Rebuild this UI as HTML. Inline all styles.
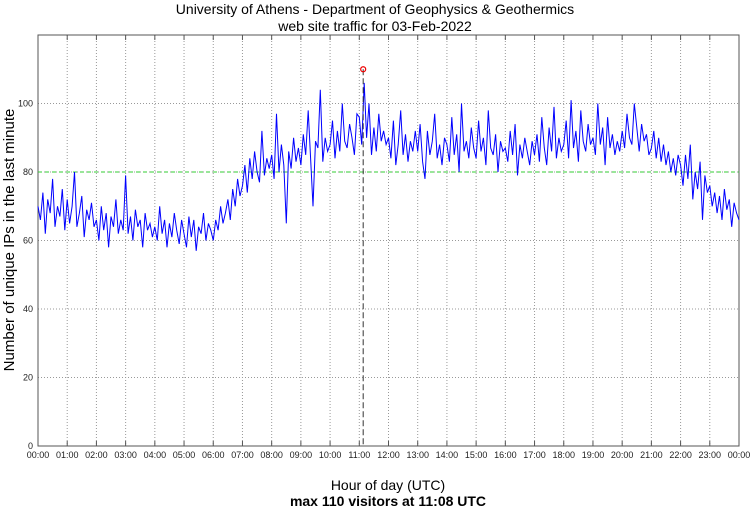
<!DOCTYPE html>
<html><head><meta charset="utf-8"><style>
body{margin:0;background:#fff;}
svg{display:block;font-family:"Liberation Sans",sans-serif;}
</style></head><body>
<svg id="c" width="750" height="511">
<text x="375" y="14" font-size="14" text-anchor="middle">University of Athens - Department of Geophysics &amp; Geothermics</text>
<text x="375" y="31" font-size="14" text-anchor="middle">web site traffic for 03-Feb-2022</text>
<text transform="translate(14,240) rotate(-90)" font-size="15" text-anchor="middle">Number of unique IPs in the last minute</text>
<text x="388" y="490" font-size="14" text-anchor="middle">Hour of day (UTC)</text>
<text x="388" y="506" font-size="14" font-weight="bold" text-anchor="middle">max 110 visitors at 11:08 UTC</text>
<g id="grid"></g><g id="plot"></g>
</svg>
<script>
const hourLabels=["00:00","01:00","02:00","03:00","04:00","05:00","06:00","07:00","08:00","09:00","10:00","11:00","12:00","13:00","14:00","15:00","16:00","17:00","18:00","19:00","20:00","21:00","22:00","23:00","00:00"];
const yTicks=[0,20,40,60,80,100];
const avgLevel=80;
const maxValue=110, maxMinute=668;
const visitors=[
70,66,74,62,72,68,78,64,70,67,75,63,
72,65,70,80,64,68,73,61,69,66,71,64,
66,60,70,63,68,58,67,64,72,62,66,63,
79,62,67,60,69,64,66,58,68,63,65,61,
64,60,70,62,66,58,65,61,68,63,59,66,
62,58,67,61,66,57,64,62,68,60,65,63,
60,66,63,70,65,68,72,66,75,70,78,73,
76,82,74,84,78,86,80,77,92,79,84,81,
85,78,97,80,88,82,65,86,81,90,83,87,
82,91,85,98,84,70,89,87,104,83,90,86,
88,95,84,92,86,100,89,87,94,90,85,97,
96,88,106,90,100,85,93,86,97,89,92,88,
90,84,95,82,88,98,85,91,83,89,86,92,
86,94,83,78,92,85,89,97,84,88,82,90,
88,83,96,85,91,80,100,86,89,84,93,87,
84,95,86,90,82,98,87,85,91,80,89,86,
87,83,92,85,94,79,88,84,90,86,82,89,
85,91,83,96,87,82,93,86,99,84,90,86,
88,95,84,101,87,92,83,98,89,86,94,88,
90,85,100,88,93,82,96,87,91,85,89,86,
92,87,97,90,88,100,93,86,94,89,91,85,
87,92,84,90,83,88,82,86,80,84,79,85,
82,76,85,78,88,72,80,75,83,66,79,74,
76,70,74,68,73,66,75,69,72,64,71,68,66];
const L=38,R=739,T=35,B=446,YMAX=120;
const xs=m=>L+(R-L)*m/1440, ys=v=>B-(B-T)*v/YMAX;
const NS="http://www.w3.org/2000/svg";
const grid=document.getElementById('grid'),plot=document.getElementById('plot');
function mk(tag,attrs,parent){const e=document.createElementNS(NS,tag);for(const k in attrs)e.setAttribute(k,attrs[k]);parent.appendChild(e);return e;}
hourLabels.forEach((lab,i)=>{const x=xs(i*60);
 if(i>0&&i<24){const g=mk('line',{x1:x,x2:x,y1:T,y2:B,stroke:'#999','stroke-dasharray':'1,2','stroke-width':1},grid);
 
 }
 mk('line',{x1:x,x2:x,y1:B,y2:B-5,stroke:'#555'},grid);
 mk('line',{x1:x,x2:x,y1:T,y2:T+5,stroke:'#555'},grid);
 const t=mk('text',{x:x,y:458,'font-size':9,'text-anchor':'middle',fill:'#222'},grid);t.textContent=lab;
 
 
});
yTicks.forEach(v=>{const y=ys(v);
 if(v>0){const g=mk('line',{x1:L,x2:R,y1:y,y2:y,stroke:'#999','stroke-dasharray':'1,2'},grid);
 
 }
 const t=mk('text',{x:33,y:y+3,'font-size':9,'text-anchor':'end',fill:'#222'},grid);t.textContent=v;
 
 
});
const fr=mk('rect',{x:L,y:T,width:R-L,height:B-T,fill:'none',stroke:'#555'},grid);


const av=mk('line',{x1:L,x2:R,y1:ys(avgLevel),y2:ys(avgLevel),stroke:'#3c3','stroke-dasharray':'4,3','stroke-width':1},plot);


const step=1440/(visitors.length-1);
const pts=visitors.map((v,i)=>xs(i*step).toFixed(1)+','+ys(v).toFixed(1)).join(' ');
const pl=mk('polyline',{points:pts,fill:'none',stroke:'#00f','stroke-width':1},plot);


const vl=mk('line',{x1:xs(maxMinute),x2:xs(maxMinute),y1:ys(maxValue),y2:B,stroke:'#333','stroke-dasharray':'6,3'},plot);


const mc=mk('circle',{cx:xs(maxMinute),cy:ys(maxValue),r:2.5,fill:'none',stroke:'#e00','stroke-width':1.2},plot);


</script>
</body></html>
